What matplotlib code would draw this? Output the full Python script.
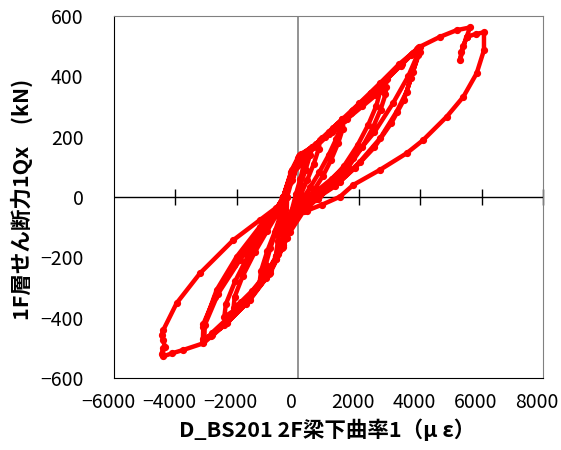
import matplotlib
matplotlib.use("Agg")
import matplotlib.pyplot as plt
import matplotlib.transforms as mtransforms
import numpy as np

plt.rcParams['font.family'] = ['Noto Sans CJK JP', 'DejaVu Sans']

# curvature (micro-strain) vs storey shear (kN), one list pair per loading cycle
c0_x = [-350, -200, 0, 150, 260, 200, 80, -60, -200, -330, -380, -350]
c0_y = [0, 55, 105, 125, 135, 110, 60, 10, -45, -95, -115, 0]

c1_x = [-400, -250, -50, 150, 350, 450, 400, 250, 50, -150, -350, -500, -450, -400]
c1_y = [0, 50, 100, 130, 150, 165, 140, 90, 30, -40, -100, -150, -100, 0]

c1b_x = [-420, -220, 0, 250, 500, 720, 680, 520, 300, 80, -150, -400, -650, -720,
         -650, -520, -430]
c1b_y = [0, 65, 115, 145, 165, 188, 160, 110, 55, 5, -50, -120, -175, -195,
         -145, -70, 0]

c2_x = [-400, -200, 50, 400, 800, 1150, 1450, 1400, 1250, 1000, 700, 400, 150, -100,
        -400, -700, -950, -1100, -1050, -900, -700, -500, -400]
c2_y = [0, 70, 130, 160, 195, 230, 258, 232, 192, 138, 82, 32, -8, -50,
        -130, -195, -240, -262, -225, -170, -110, -50, 0]

c3_x = [-400, -150, 100, 500, 900, 1250, 1500, 1460, 1320, 1080, 820, 520, 250, -50,
        -350, -700, -1000, -1250, -1200, -1000, -750, -550, -420]
c3_y = [0, 80, 135, 165, 200, 235, 256, 225, 180, 122, 70, 22, -15, -60,
        -135, -205, -255, -285, -245, -180, -115, -55, 0]

c4_x = [-420, -200, 50, 500, 1000, 1500, 2000, 2400, 2700, 2690, 2560, 2300, 1950, 1500,
        1000, 500, 100, -300, -700, -1100, -1500, -1850, -2100, -2060, -1800, -1400,
        -1000, -650, -450]
c4_y = [0, 80, 135, 165, 210, 255, 305, 345, 377, 352, 302, 240, 172, 102,
        42, -8, -45, -115, -200, -262, -312, -347, -368, -330, -262, -182,
        -112, -52, 0]

c5_x = [-450, -200, 100, 600, 1100, 1600, 2100, 2550, 2880, 2860, 2700, 2450, 2100, 1650,
        1150, 650, 200, -250, -700, -1150, -1600, -2000, -2400, -2350, -2050, -1600,
        -1100, -700, -470]
c5_y = [0, 85, 140, 170, 215, 258, 300, 338, 365, 340, 290, 230, 165, 100,
        42, -5, -45, -115, -205, -272, -330, -370, -398, -355, -280, -190,
        -115, -55, 0]

c6_x = [-470, -200, 100, 600, 1200, 1800, 2400, 2900, 3400, 3750, 3950, 3980, 3750, 3550,
        3225, 2680, 2027, 1374, 718, 200, -150, -476, -911, -1563, -2324, -2800, -3087,
        -3090, -2650, -1997, -1237, -700, -480]
c6_y = [0, 85, 142, 175, 228, 288, 345, 392, 442, 478, 497, 481, 415, 349,
        283, 194, 117, 51, 7, -30, -62, -158, -242, -328, -405, -450, -482,
        -432, -308, -198, -98, -40, 0]

c6b_x = [-470, -210, 90, 580, 1180, 1780, 2380, 2880, 3380, 3720, 3930, 3900, 3600, 3100,
         2500, 1800, 1100, 500, 0, -300, -650, -1050, -1700, -2400, -2850, -3050,
         -3040, -2600, -1900, -1200, -700, -470]
c6b_y = [0, 82, 140, 172, 225, 284, 342, 390, 440, 474, 494, 470, 400, 310,
         215, 130, 60, 10, -30, -95, -190, -270, -355, -425, -460, -472,
         -425, -320, -210, -115, -50, 0]

c7_x = [-480, -220, 80, 550, 1150, 1750, 2350, 2850, 3350, 3700, 3900, 3920, 3700, 3450,
        3050, 2500, 1850, 1200, 600, 100, -200, -520, -950, -1600, -2300, -2800, -3100,
        -3080, -2700, -2100, -1400, -800, -480]
c7_y = [0, 80, 138, 170, 222, 280, 338, 385, 435, 470, 490, 470, 395, 320,
        245, 165, 95, 35, -5, -40, -75, -170, -255, -340, -415, -458, -470,
        -420, -330, -225, -130, -60, 0]

c8_x = [-480, -200, 0, 400, 1000, 1450, 2000, 2680, 3300, 3980, 4640, 5180, 5617, 5510,
        5400, 5300, 5330, 5510, 5800, 6074, 6074, 5835, 5400, 4856, 4092, 3550, 2680,
        1808, 1374, 800, 300, -150, -476, -911, -1563, -2324, -3087, -3740, -4100,
        -4392, -4445, -4400, -4337, -4400, -4445, -4392, -3956, -3195, -2108, -1237,
        -700, -400]
c8_y = [0, 90, 130, 158, 215, 258, 310, 377, 440, 498, 531, 553, 562, 531,
        500, 455, 480, 531, 540, 546, 487, 410, 332, 266, 189, 145, 90,
        40, 1, -25, -45, -65, -165, -253, -341, -419, -485, -507, -518,
        -528, -520, -500, -496, -475, -457, -441, -352, -253, -143, -76,
        -35, 0]

x_ticks = [-6000, -4000, -2000, 0, 2000, 4000, 6000, 8000]
y_ticks = [-600, -400, -200, 0, 200, 400, 600]

xs = np.concatenate([c0_x, c1_x, c1b_x, c2_x, c3_x, c4_x, c5_x, c6_x, c6b_x, c7_x, c8_x])
ys = np.concatenate([c0_y, c1_y, c1b_y, c2_y, c3_y, c4_y, c5_y, c6_y, c6b_y, c7_y, c8_y])

fig = plt.figure(figsize=(5.61, 4.5), dpi=100)
ax = fig.add_axes([114 / 561, 1 - 378 / 450, 429 / 561, 362 / 450])

# zero lines (Excel style crossing axes)
ax.axhline(0, color='black', lw=1.0, zorder=1)
ax.axvline(0, color='#808080', lw=1.2, zorder=1)
inner = [t for t in x_ticks if t not in (0, -6000)]
ax.plot(inner, [0] * len(inner), ls='none', marker='|', ms=12, mew=1.0,
        color='black', zorder=1, clip_on=False)

ax.plot(xs, ys, color='#FF0000', lw=3.2, marker='o', ms=4.2, zorder=3)

ax.set_xlim(-6000, 8000)
ax.set_ylim(-600, 600)
ax.set_xticks(x_ticks)
ax.set_yticks(y_ticks)
ax.tick_params(length=0, labelsize=14)
ax.tick_params(axis='y', pad=22)
ax.tick_params(axis='x', pad=10)

# Excel draws the category labels a little left of the tick
shift = mtransforms.ScaledTranslation(-6 / 100, 0, fig.dpi_scale_trans)
for lab in ax.get_xticklabels():
    lab.set_transform(lab.get_transform() + shift)

for s in ['top', 'right']:
    ax.spines[s].set_color('#808080')
for s in ['left', 'bottom']:
    ax.spines[s].set_color('black')

fig.text(327 / 561, 1 - 430 / 450, 'D_BS201 2F梁下曲率1（μ ε）', ha='center', va='center',
         fontsize=15.5, fontweight='bold')
fig.text(22 / 561, 1 - 199 / 450, '1F層せん断力1Qx　(kN)', ha='center', va='center',
         rotation=90, fontsize=15.5, fontweight='bold')

fig.savefig('out.png', dpi=100)
